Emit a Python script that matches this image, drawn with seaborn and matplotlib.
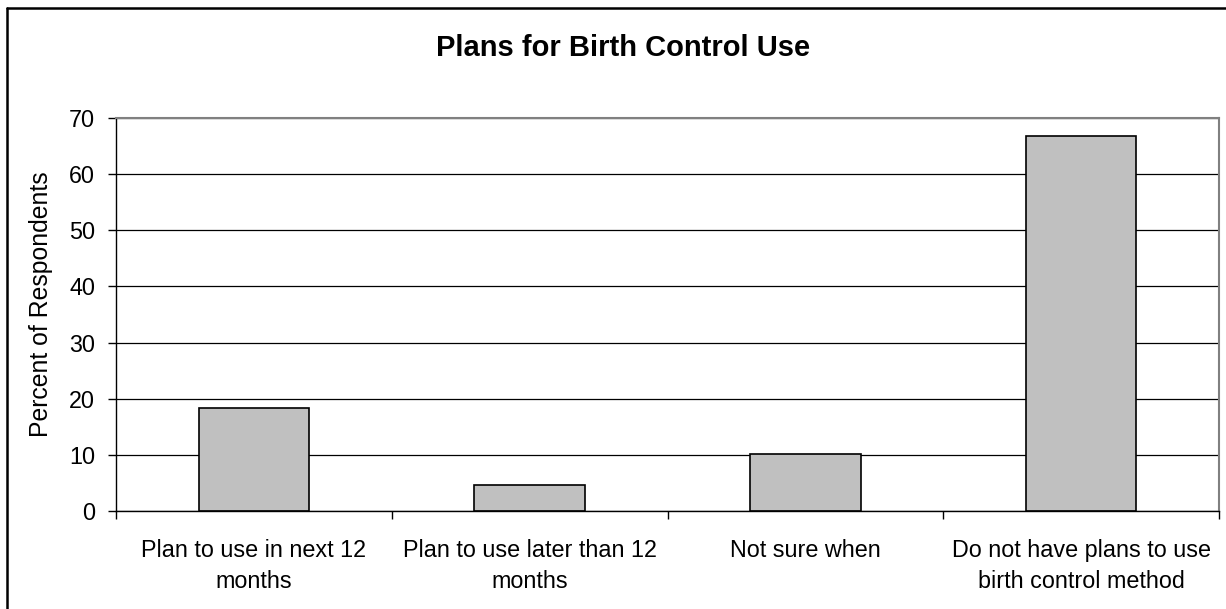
import matplotlib
matplotlib.use("Agg")
import matplotlib.pyplot as plt
import seaborn as sns
import pandas as pd
from matplotlib.lines import Line2D

categories = ["Plan to use in next 12\nmonths",
              "Plan to use later than 12\nmonths",
              "Not sure when",
              "Do not have plans to use\nbirth control method"]
values = [18.4, 4.6, 10.2, 66.8]
yticks = [0, 10, 20, 30, 40, 50, 60, 70]

title = "Plans for Birth Control Use"
ylabel = "Percent of Respondents"

sns.set_theme(style="white")
plt.rcParams['font.family'] = ['Liberation Sans', 'DejaVu Sans']
plt.rcParams['text.color'] = 'black'
plt.rcParams['axes.labelcolor'] = 'black'
plt.rcParams['xtick.color'] = 'black'
plt.rcParams['ytick.color'] = 'black'

df = pd.DataFrame({"cat": categories, "val": values})

fig = plt.figure(figsize=(12.26, 6.09), dpi=100)
ax = fig.add_axes([116/1226, 1 - 511/609, (1219 - 116)/1226, (511 - 118)/609])

sns.barplot(data=df, x="cat", y="val", ax=ax, color="#c0c0c0",
            edgecolor="black", linewidth=1.2, width=0.40, saturation=1)

ax.set_ylim(0, 70)
ax.set_xlim(-0.5, 3.5)
ax.set_yticks(yticks)
ax.set_yticklabels([str(t) for t in yticks], fontsize=16.8)
ax.yaxis.grid(True, color="black", linewidth=0.9)
ax.set_axisbelow(True)

# x ticks at category boundaries, labels at centers
ax.set_xticks([-0.5, 0.5, 1.5, 2.5, 3.5])
ax.set_xticklabels([])
ax.set_xticks([0, 1, 2, 3], minor=True)
ax.set_xticklabels(categories, minor=True, fontsize=16.8, linespacing=1.45)
ax.tick_params(axis="x", which="minor", length=0, pad=20)
ax.tick_params(axis="x", which="major", direction="out", length=6, width=1, color="black", bottom=True)
ax.tick_params(axis="y", direction="out", length=6, width=1, color="black", left=True, pad=9)

ax.set_xlabel("")
ax.set_ylabel(ylabel, fontsize=17.8)
ax.yaxis.set_label_coords(53/1226, 0.5, transform=fig.transFigure)

for s in ["left", "bottom"]:
    ax.spines[s].set_color("black")
    ax.spines[s].set_linewidth(1)
for s in ["top", "right"]:
    ax.spines[s].set_color("#808080")
    ax.spines[s].set_linewidth(1.5)

fig.text(623/1226, 1 - 48/609, title, ha="center", va="center",
         fontsize=21, fontweight="bold")

# outer chart border (left and top visible)
fig.add_artist(Line2D([7/1226, 7/1226], [0, 1 - 8/609], transform=fig.transFigure,
                      color="black", linewidth=1.8))
fig.add_artist(Line2D([7/1226, 1], [1 - 8/609, 1 - 8/609], transform=fig.transFigure,
                      color="black", linewidth=1.8))

fig.savefig("out.png", dpi=100, facecolor="white")
